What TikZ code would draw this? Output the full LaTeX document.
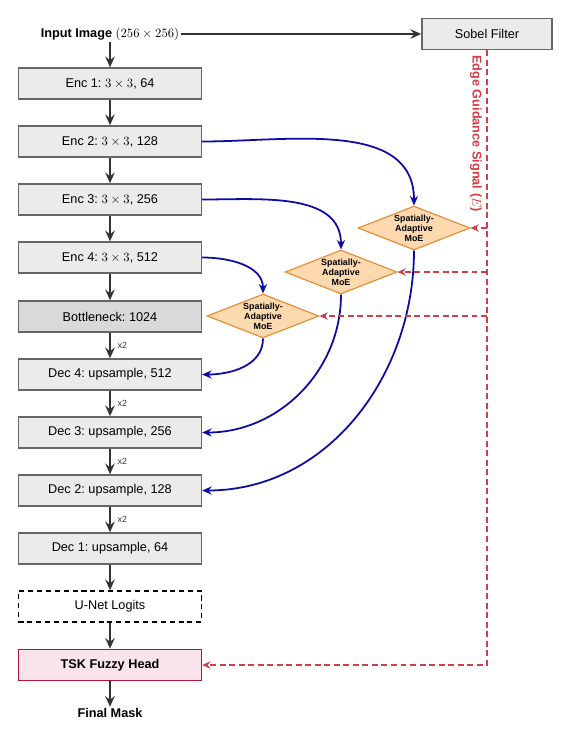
\documentclass[tikz,border=0pt]{standalone}
\usepackage[no-math]{fontspec}
\setmainfont{Liberation Sans}
\usetikzlibrary{arrows.meta,shapes.geometric,calc}
\definecolor{boxfill}{RGB}{235,235,235}
\definecolor{boxdraw}{RGB}{102,102,102}
\definecolor{bnfill}{RGB}{217,217,217}
\definecolor{arrowgray}{RGB}{51,51,51}
\definecolor{skipblue}{RGB}{12,12,165}
\definecolor{edgered}{RGB}{212,60,70}
\definecolor{tskfill}{RGB}{250,228,235}
\definecolor{tskdraw}{RGB}{180,20,60}
\definecolor{moefill}{RGB}{253,217,176}
\definecolor{moedraw}{RGB}{230,140,50}
\tikzset{
  blockbox/.style={draw=boxdraw, fill=boxfill, line width=1.1pt, minimum width=144.1pt, minimum height=24.4pt, inner sep=0pt, font=\normalsize},
  flowarrow/.style={draw=arrowgray, line width=1.4pt, -{Stealth[length=8.5pt,width=7.5pt,inset=3pt]}},
  skiparrow/.style={draw=skipblue, line width=1.4pt, -{Stealth[length=7.5pt,width=6.5pt,inset=2.5pt]}},
  edgearrow/.style={draw=edgered, line width=1.575pt, dash pattern=on 4.7pt off 2.8pt, -{Stealth[length=6.5pt,width=5.8pt,inset=2.2pt]}},
  moe/.style={shape=diamond, draw=moedraw, fill=moefill, line width=0.9pt, aspect=2.55, inner sep=0pt, minimum width=88.2pt, minimum height=34.6pt, align=center, font=\scriptsize\bfseries},
  uplabel/.style={font=\scriptsize, text=arrowgray, right, xshift=2pt}
}
\begin{document}
\frenchspacing
\begin{tikzpicture}[x=0.7874pt, y=-0.7874pt]
\useasboundingbox (0,0) rectangle (571,742);

\node[inner sep=1pt] (input) at (110,34) {\textbf{Input Image} $(256\times256)$};
\node[blockbox, minimum width=102.4pt] (sobel) at (487,34) {Sobel Filter};

\node[blockbox] (enc1) at (110,83.5) {Enc 1: $3\times3$, 64};
\node[blockbox] (enc2) at (110,141.5) {Enc 2: $3\times3$, 128};
\node[blockbox] (enc3) at (110,199.5) {Enc 3: $3\times3$, 256};
\node[blockbox] (enc4) at (110,257.5) {Enc 4: $3\times3$, 512};
\node[blockbox, fill=bnfill] (bottleneck) at (110,316.5) {Bottleneck: 1024};
\node[blockbox] (dec4) at (110,374.5) {Dec 4: upsample, 512};
\node[blockbox] (dec3) at (110,432.5) {Dec 3: upsample, 256};
\node[blockbox] (dec2) at (110,490.5) {Dec 2: upsample, 128};
\node[blockbox] (dec1) at (110,548.5) {Dec 1: upsample, 64};
\node[blockbox, draw=black, fill=white, dash pattern=on 4pt off 3pt] (logits) at (110,606.5) {U-Net Logits};
\node[blockbox, draw=tskdraw, fill=tskfill] (tsk) at (110,665) {\textbf{TSK Fuzzy Head}};
\node[inner sep=1pt] (mask) at (110,713) {\textbf{Final Mask}};

\node[moe] (moe1) at (414,228) {\baselineskip=8pt Spatially-\\Adaptive\\MoE};
\node[moe] (moe2) at (341,272) {\baselineskip=8pt Spatially-\\Adaptive\\MoE};
\node[moe] (moe3) at (263,316) {\baselineskip=8pt Spatially-\\Adaptive\\MoE};

% main flow
\draw[flowarrow] (input.east) -- (sobel.west);
\draw[flowarrow] (input.south) -- (enc1.north);
\draw[flowarrow] (enc1) -- (enc2);
\draw[flowarrow] (enc2) -- (enc3);
\draw[flowarrow] (enc3) -- (enc4);
\draw[flowarrow] (enc4) -- (bottleneck);
\draw[flowarrow] (bottleneck) -- node[uplabel] {x2} (dec4);
\draw[flowarrow] (dec4) -- node[uplabel] {x2} (dec3);
\draw[flowarrow] (dec3) -- node[uplabel] {x2} (dec2);
\draw[flowarrow] (dec2) -- node[uplabel] {x2} (dec1);
\draw[flowarrow] (dec1) -- (logits);
\draw[flowarrow] (logits) -- (tsk);
\draw[flowarrow] (tsk.south) -- (mask.north);

% skip connections through MoE
\draw[skiparrow] (enc2.east) to[out=0, in=90] (moe1.north);
\draw[skiparrow] (enc3.east) to[out=0, in=90] (moe2.north);
\draw[skiparrow] (enc4.east) to[out=0, in=90] (moe3.north);
\draw[skiparrow] (moe3.south) to[out=-90, in=0] (dec4.east);
\draw[skiparrow] (moe2.south) to[out=-90, in=0] (dec3.east);
\draw[skiparrow] (moe1.south) to[out=-90, in=0] (dec2.east);

% edge guidance
\coordinate (e1) at (sobel.south |- moe1.east);
\coordinate (e2) at (sobel.south |- moe2.east);
\coordinate (e3) at (sobel.south |- moe3.east);
\draw[edgearrow] (sobel.south) |- (tsk.east);
\draw[edgearrow] (e1) -- (moe1.east);
\draw[edgearrow] (e2) -- (moe2.east);
\draw[edgearrow] (e3) -- (moe3.east);
\node[rotate=-90, text=edgered, font=\bfseries] (edgelabel) at (476,133.5) {Edge Guidance Signal ($E$)};
\end{tikzpicture}
\end{document}
